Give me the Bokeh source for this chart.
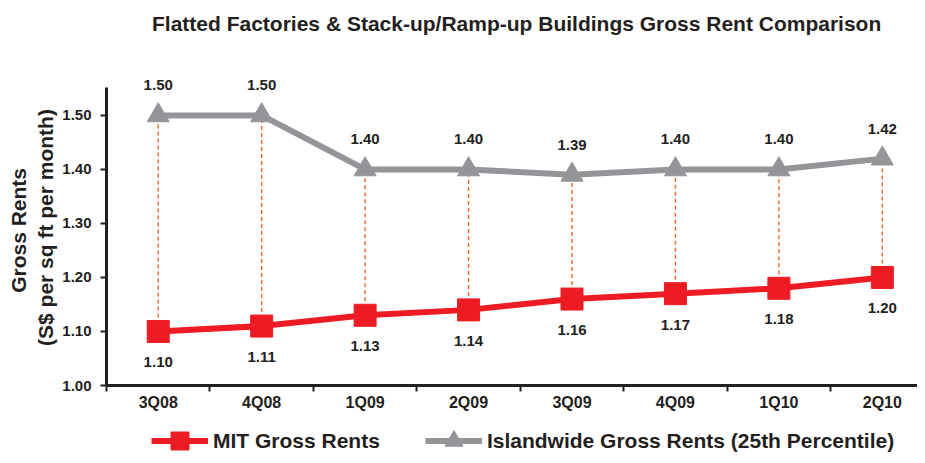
from bokeh.plotting import figure
from bokeh.layouts import column
from bokeh.models import ColumnDataSource, FixedTicker, Legend, LegendItem, Range1d, NumeralTickFormatter, Div
from bokeh.core.properties import value
from bokeh.embed import file_html
from bokeh.resources import INLINE

title_text = "Flatted Factories & Stack-up/Ramp-up Buildings Gross Rent Comparison"
quarters = ["3Q08", "4Q08", "1Q09", "2Q09", "3Q09", "4Q09", "1Q10", "2Q10"]
mit_rents = [1.10, 1.11, 1.13, 1.14, 1.16, 1.17, 1.18, 1.20]
island_rents = [1.50, 1.50, 1.40, 1.40, 1.39, 1.40, 1.40, 1.42]
y_ticks = [1.00, 1.10, 1.20, 1.30, 1.40, 1.50]
series_names = ["MIT Gross Rents", "Islandwide Gross Rents (25th Percentile)"]

FONT = "Liberation Sans"
DARK = "#231F20"
RED = "#ED1C24"
GRAY = "#939598"
ORANGE = "#F26522"

xs = list(range(len(quarters)))
src = ColumnDataSource(dict(
    x=xs,
    mit=mit_rents,
    isl=island_rents,
    mit_lbl=[f"{v:.2f}" for v in mit_rents],
    isl_lbl=[f"{v:.2f}" for v in island_rents],
))

# title strip
title_div = Div(
    text=(f'<div style="padding-left:152px;text-align:left;font-family:\'{FONT}\';'
          f'font-size:21px;font-weight:bold;color:{DARK};line-height:47px;'
          f'white-space:nowrap;">{title_text.replace("&", "&amp;")}</div>'),
    width=917, height=44, margin=0)

p = figure(width=917, height=374, output_backend="svg", toolbar_location=None,
           x_range=Range1d(-0.5, 7.34), y_range=Range1d(1.0, 1.585),
           min_border_left=106, min_border_right=0, min_border_top=25, min_border_bottom=33)
p.outline_line_color = None
p.xgrid.visible = False
p.ygrid.visible = False

# vertical dashed connectors
p.segment(x0="x", y0="mit", x1="x", y1="isl", source=src, line_color=ORANGE,
          line_width=1.4, line_dash="4 3")

p.line("x", "isl", source=src, line_color=GRAY, line_width=6)
p.scatter("x", "isl", source=src, marker="triangle", size=22,
          fill_color=GRAY, line_color=GRAY)
p.line("x", "mit", source=src, line_color=RED, line_width=6)
p.scatter("x", "mit", source=src, marker="square", size=22,
          fill_color=RED, line_color=RED)

p.text("x", "isl", text="isl_lbl", source=src, y_offset=-30, text_align="center",
       text_baseline="middle", text_font_size="15px", text_font_style="bold",
       text_color=DARK, text_font=value(FONT))
p.text("x", "mit", text="mit_lbl", source=src, y_offset=31, text_align="center",
       text_baseline="middle", text_font_size="15px", text_font_style="bold",
       text_color=DARK, text_font=value(FONT))

# x axis
xa = p.xaxis[0]
xa.ticker = FixedTicker(ticks=xs, minor_ticks=[i - 0.5 for i in range(len(quarters) + 1)])
xa.major_label_overrides = {i: q for i, q in enumerate(quarters)}
xa.major_tick_out = 0
xa.major_tick_in = 0
xa.minor_tick_out = 6
xa.minor_tick_in = 0
xa.minor_tick_line_color = DARK
xa.minor_tick_line_width = 2
xa.axis_line_color = DARK
xa.axis_line_width = 3
xa.major_label_text_font = FONT
xa.major_label_text_font_style = "bold"
xa.major_label_text_font_size = "16px"
xa.major_label_text_color = DARK
xa.major_label_standoff = 2

ya = p.yaxis[0]
ya.ticker = FixedTicker(ticks=y_ticks, minor_ticks=[])
ya.formatter = NumeralTickFormatter(format="0.00")
ya.bounds = (1.0, 1.552)
ya.major_tick_out = 6
ya.major_tick_in = 0
ya.major_tick_line_color = DARK
ya.major_tick_line_width = 2
ya.axis_line_color = DARK
ya.axis_line_width = 3
ya.major_label_text_font = FONT
ya.major_label_text_font_style = "bold"
ya.major_label_text_font_size = "15px"
ya.major_label_text_color = DARK
ya.major_label_standoff = 9
ya.axis_label = "Gross  Rents\n(S$ per sq ft per month)"
ya.axis_label_text_font = FONT
ya.axis_label_text_font_style = "bold"
ya.axis_label_text_font_size = "21px"
ya.axis_label_text_color = DARK
ya.axis_label_standoff = 2

# legend strip below the chart (hidden renderers only feed the legend glyphs)
lg = figure(width=917, height=45, output_backend="svg", toolbar_location=None,
            x_axis_type=None, y_axis_type=None,
            x_range=Range1d(100, 101), y_range=Range1d(100, 101),
            min_border_left=0, min_border_right=0, min_border_top=0, min_border_bottom=0)
lg.outline_line_color = None
lg.grid.visible = False
l_mit = lg.line("x", "mit", source=src, line_color=RED, line_width=6, visible=False)
s_mit = lg.scatter("x", "mit", source=src, marker="square", size=22, fill_color=RED,
                   line_color=RED, visible=False)
l_isl = lg.line("x", "isl", source=src, line_color=GRAY, line_width=6, visible=False)
s_isl = lg.scatter("x", "isl", source=src, marker="triangle", size=22, fill_color=GRAY,
                   line_color=GRAY, visible=False)

legend = Legend(items=[
    LegendItem(label=series_names[0], renderers=[l_mit, s_mit]),
    LegendItem(label=series_names[1], renderers=[l_isl, s_isl]),
], orientation="horizontal", location=(45, 0))
legend.label_text_font = FONT
legend.label_text_font_style = "bold"
legend.label_text_font_size = "21px"
legend.label_text_color = DARK
legend.border_line_color = None
legend.background_fill_alpha = 0
legend.inactive_fill_alpha = 0
legend.glyph_width = 57
legend.glyph_height = 45
legend.spacing = 45
legend.label_standoff = 5
legend.margin = 0
legend.padding = 0
lg.add_layout(legend, "center")

layout = column(title_div, p, lg, spacing=0)
open("out.html", "w").write(file_html(layout, INLINE))
